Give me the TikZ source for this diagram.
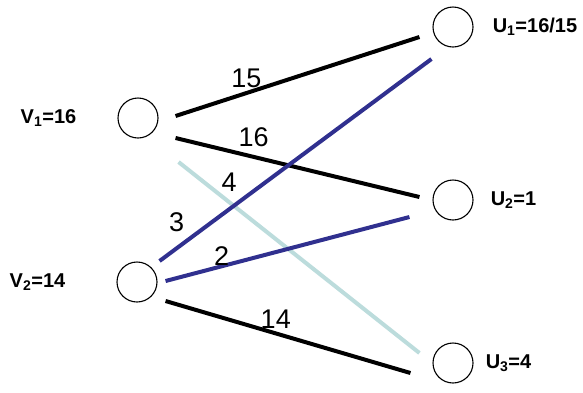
\documentclass[tikz,border=0pt]{standalone}
\usepackage{fontspec}
\setmainfont{Liberation Sans}
\usetikzlibrary{positioning}
\definecolor{edgenavy}{HTML}{30308F}
\definecolor{edgeice}{HTML}{BCDCDC}

\begin{document}
\begin{tikzpicture}[
      x=1pt, y=-1pt,
      vertex/.style={draw, circle, line width=1.1pt, minimum size=40pt, inner sep=0pt},
      vlabel/.style={inner sep=0pt, font=\fontsize{20}{22}\selectfont\bfseries},
      wlabel/.style={inner sep=0pt, font=\fontsize{27}{27}\selectfont},
      wedge/.style={line width=4pt},
    ]
    \useasboundingbox (0,0) rectangle (583,392);

    % left side
    \node[vertex] (v1) at (138,118) {};
    \node[vertex] (v2) at (137,282) {};
    \node[vlabel, left=41pt of v1] (v1l) {V\textsubscript{1}=16};
    \node[vlabel, left=51pt of v2] (v2l) {V\textsubscript{2}=14};

    % right side
    \node[vertex] (u1) at (453,27) {};
    \node[vertex] (u2) at (453,200) {};
    \node[vertex] (u3) at (453,363) {};
    \node[vlabel, right=19pt of u1] (u1l) {U\textsubscript{1}=16/15};
    \node[vlabel, right=17pt of u2] (u2l) {U\textsubscript{2}=1};
    \node[vlabel, right=12pt of u3] (u3l) {U\textsubscript{3}=4};

    % edges out of V1
    \draw[wedge, black] ([shift={(17,-2)}]v1.east) -- ([shift={(-13,10)}]u1.west)
      node[wlabel, pos=.29, above=3pt] {15};
    \draw[wedge, black] ([shift={(17,20)}]v1.east) -- ([shift={(-13,-3)}]u2.west)
      node[wlabel, pos=.32, above=8pt] {16};
    \draw[wedge, edgeice] ([shift={(20,44)}]v1.east) -- ([shift={(-13,-10)}]u3.west)
      node[wlabel, black, pos=.21, above=9pt] {4};

    % edges out of V2
    \draw[wedge, edgenavy] ([shift={(2,-21)}]v2.east) -- ([shift={(-1,32)}]u1.west)
      node[wlabel, black, pos=.19, left=25pt] {3};
    \draw[wedge, edgenavy] ([shift={(8,-1)}]v2.east) -- ([shift={(-23,17)}]u2.west)
      node[wlabel, black, pos=.23, above=-1pt] {2};
    \draw[wedge, black] ([shift={(8,19)}]v2.east) -- ([shift={(-22,10)}]u3.west)
      node[wlabel, pos=.45, above=3pt] {14};
  \end{tikzpicture}
\end{document}
